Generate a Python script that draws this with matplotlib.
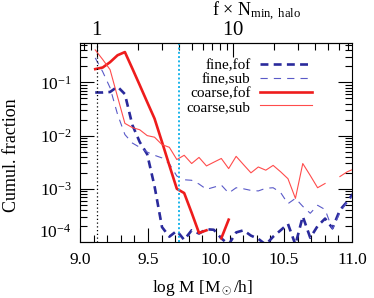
import matplotlib
matplotlib.use('Agg')
import matplotlib.pyplot as plt
import numpy as np
from matplotlib.ticker import MultipleLocator, FixedLocator, NullFormatter, FuncFormatter, LogLocator

plt.rcParams['font.family'] = ['Liberation Serif', 'DejaVu Serif']
plt.rcParams['mathtext.fontset'] = 'custom'
plt.rcParams['mathtext.rm'] = 'Liberation Serif'
plt.rcParams['mathtext.it'] = 'Liberation Serif:italic'

nan = np.nan

# bin centres, log M [Msun/h]
log_m = [9.112, 9.167, 9.221, 9.276, 9.330, 9.385, 9.439, 9.494, 9.548, 9.603,
         9.657, 9.712, 9.766, 9.821, 9.875, 9.930, 9.984, 10.039, 10.093, 10.148,
         10.202, 10.257, 10.311, 10.366, 10.420, 10.475, 10.529, 10.584, 10.638, 10.693,
         10.747, 10.802, 10.856, 10.911, 10.965, 11.020]

# log10 of cumulative fraction
fine_fof = [-1.19, -1.19, -1.18, -1.08, -1.22, -1.80, -2.12, -2.35, -2.95, -3.72,
            -3.90, -3.79, -3.96, -3.78, -3.84, -3.76, -3.77, -3.93, -4.05, -3.82,
            -3.78, -3.88, -3.94, -4.05, -3.90, -3.78, -3.66, -4.05, -3.52, -3.92,
            -3.70, -3.56, -3.74, -3.40, -3.24, -3.05]
fine_sub = [-0.54, -0.80, -1.10, -1.60, -1.98, -2.14, -2.22, -2.31, -2.37, -2.42,
            -2.53, -2.76, -2.83, -2.84, -2.91, -3.01, -2.97, -2.93, -3.08, -2.98,
            -3.00, -3.03, -3.04, -2.99, -2.98, -3.07, -3.28, -3.18, -3.33, -3.46,
            -3.31, -3.39, -3.76, -3.45, -3.24, -3.10]
coarse_fof = [-0.75, -0.72, -0.62, -0.49, -0.43, -0.74, -1.05, -1.37, -1.68, -2.12,
              -2.56, -3.00, -3.08, -3.45, -3.83, -3.78, nan, -3.93, -3.58, nan,
              nan, nan, nan, nan, nan, nan, nan, nan, nan, nan,
              nan, nan, nan, nan, nan, nan]
coarse_sub = [-0.39, -0.57, -0.76, -1.27, -1.77, -1.85, -1.89, -2.00, -2.03, -2.17,
              -2.22, -2.45, -2.37, -2.525, -2.41, -2.57, -2.50, -2.43, -2.62, -2.39,
              -2.545, -2.70, -2.59, -2.65, -2.56, -2.68, -2.81, -3.18, -2.525, -2.75,
              -2.98, -2.90, nan, -2.77, -2.68, -2.62]

# mass of f x N_min,halo = 1, and the f x N = 4 cut
log_m_one = 9.125
f_cut = 4

fig = plt.figure(figsize=(3.74, 2.98), dpi=100)
ax = fig.add_axes([0.2139, 0.1879, 0.7273, 0.6678])

ax.plot(log_m, 10 ** np.array(fine_fof), color='#2a2a9c', lw=1.9, dashes=(3.0, 2.0), label='fine,fof')
ax.plot(log_m, 10 ** np.array(fine_sub), color='#5a5ac8', lw=0.8, dashes=(6.5, 5.5), label='fine,sub')
ax.plot(log_m, 10 ** np.array(coarse_fof), color='#ee1c1c', lw=1.9, label='coarse,fof')
ax.plot(log_m, 10 ** np.array(coarse_sub), color='#ff4c4c', lw=0.8, label='coarse,sub')

ax.axvline(log_m_one, color='black', lw=0.9, ls=(0, (1, 2)))
ax.axvline(log_m_one + np.log10(f_cut), color='#1ab4ea', lw=1.4, ls=(0, (1, 1.2)))

ax.set_yscale('log')
ax.set_xlim(9.0, 11.0)
ax.set_ylim(1e-4, 0.55)

ax.xaxis.set_major_locator(MultipleLocator(0.5))
ax.xaxis.set_minor_locator(MultipleLocator(0.1))
ax.xaxis.set_major_formatter(FuncFormatter(lambda v, p: f'{v:.1f}'))
ax.yaxis.set_major_locator(FixedLocator([1e-4, 1e-3, 1e-2, 1e-1]))
ax.yaxis.set_minor_locator(LogLocator(base=10, subs=np.arange(2, 10)))
ax.yaxis.set_minor_formatter(NullFormatter())

ax.tick_params(which='both', direction='in', top=False, right=True, labelsize=12.5)
ax.tick_params(which='major', length=10, width=0.8)
ax.tick_params(which='minor', length=5, width=0.8)
ax.tick_params(axis='x', pad=7)
ax.tick_params(axis='y', pad=6)

fig.canvas.draw()
ax.yaxis.get_major_ticks()[0].label1.set_verticalalignment('bottom')

# top axis: f x N_min,halo
top = ax.secondary_xaxis('top', functions=(lambda x: 10 ** (x - log_m_one),
                                           lambda n: np.log10(np.clip(n, 1e-6, None)) + log_m_one))
top.set_xscale('log')
top.xaxis.set_major_locator(FixedLocator([1, 10]))
top.xaxis.set_minor_locator(LogLocator(base=10, subs=np.arange(2, 10)))
top.xaxis.set_major_formatter(FuncFormatter(lambda v, p: '$\\mathdefault{%g}$' % v))
top.xaxis.set_minor_formatter(NullFormatter())
top.tick_params(which='both', direction='in', labelsize=15, pad=2)
top.tick_params(which='major', length=10, width=0.8)
top.tick_params(which='minor', length=5, width=0.8)

ax.text(0.65, 1.136, 'f × N$_{\\mathrm{min,\\ halo}}$', transform=ax.transAxes,
        ha='center', va='baseline', fontsize=13)

ax.set_xlabel('log M [M$_\\odot$/h]', fontsize=12.5)
ax.xaxis.set_label_coords(0.449, -0.18)
ax.set_ylabel('Cumul. fraction', fontsize=13)
ax.yaxis.set_label_coords(-0.222, 0.437)

ax.legend(loc='upper right', bbox_to_anchor=(0.852, 0.92), frameon=False, fontsize=11,
          markerfirst=False, handlelength=3.4, handletextpad=0.6, labelspacing=0.0,
          borderpad=0, borderaxespad=0)

fig.savefig('out.png', dpi=100)
